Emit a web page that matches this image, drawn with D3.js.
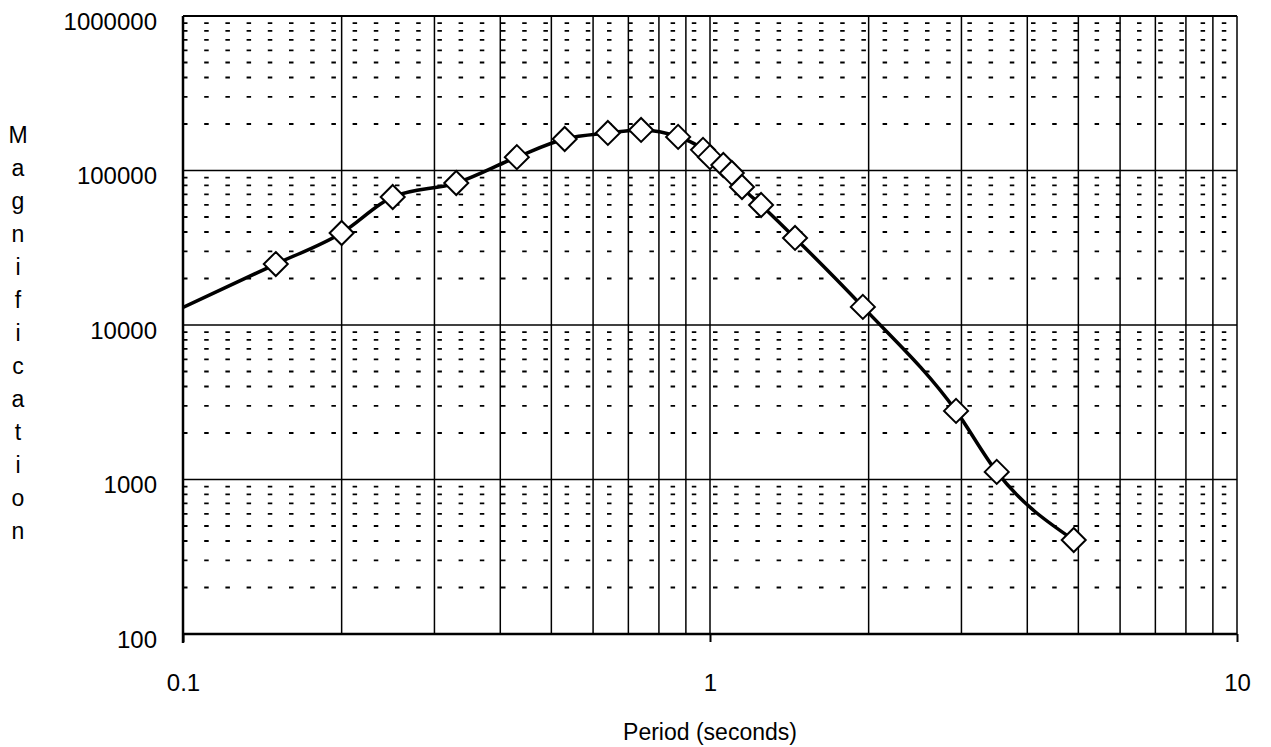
<!DOCTYPE html>
<html>
<head>
<meta charset="utf-8">
<script src="https://cdn.jsdelivr.net/npm/d3@7"></script>
<style>
body { margin: 0; background: #fff; }
svg { display: block; font-family: "Liberation Sans", Arial, sans-serif; }
</style>
</head>
<body>
<svg id="chart"></svg>
<script>
// values
const periods = [0.1, 0.15, 0.2, 0.25, 0.33, 0.43, 0.53, 0.64, 0.74, 0.87, 0.97, 1.0, 1.06, 1.1, 1.15, 1.25, 1.45, 1.95, 2.93, 3.5, 4.9];
const magnification = [13000, 24800, 39400, 67400, 83000, 122000, 160000, 175000, 183000, 165000, 136000, 122000, 108600, 96400, 78200, 59800, 36600, 13100, 2780, 1120, 406];
const xTicks = [0.1, 1, 10];
const yTicks = [100, 1000, 10000, 100000, 1000000];
const xLabel = "Period (seconds)";
const yLabel = "Magnification";

function draw(){
	var width = 1271;
	var height = 747;
	var pLeft = 183, pRight = 1237, pTop = 16, pBottom = 634;

	var svg = d3.select("#chart").attr("width", width).attr("height", height);

	var x = d3.scaleLog().domain([0.1, 10]).range([pLeft, pRight]);
	var y = d3.scaleLog().domain([100, 1000000]).range([pBottom, pTop]);

	// minor values per decade
	var xMinor = [];
	[0.1, 1].forEach(function(d){
		for(var k=2; k<10; k++) xMinor.push(d*k);
	});
	var yMinor = [];
	[100, 1000, 10000, 100000].forEach(function(d){
		for(var k=2; k<10; k++) yMinor.push(d*k);
	});

	// dashed minor horizontal grid
	svg.append("g").selectAll("line").data(yMinor)
		.enter().append("line")
		.attr("x1", pLeft).attr("x2", pRight)
		.attr("y1", d => y(d)).attr("y2", d => y(d))
		.style("stroke", "black")
		.style("stroke-width", 1.8)
		.style("stroke-dasharray", "4.5,16.7");

	// solid major horizontal grid
	svg.append("g").selectAll("line").data(yTicks.slice(1))
		.enter().append("line")
		.attr("x1", pLeft).attr("x2", pRight)
		.attr("y1", d => y(d)).attr("y2", d => y(d))
		.style("stroke", "black")
		.style("stroke-width", 1.6);

	// vertical grid, all solid
	svg.append("g").selectAll("line").data(xMinor.concat([1]))
		.enter().append("line")
		.attr("x1", d => x(d)).attr("x2", d => x(d))
		.attr("y1", pTop).attr("y2", pBottom)
		.style("stroke", "black")
		.style("stroke-width", 1.5);

	// frame
	svg.append("line").attr("x1", pRight).attr("x2", pRight).attr("y1", pTop).attr("y2", pBottom)
		.style("stroke", "black").style("stroke-width", 1.5);
	svg.append("line").attr("x1", pLeft).attr("x2", pRight).attr("y1", pTop).attr("y2", pTop)
		.style("stroke", "black").style("stroke-width", 2);

	// axes
	var yAxis = svg.append("g")
		.attr("transform", "translate(" + pLeft + ",0)")
		.call(d3.axisLeft(y).tickValues(yTicks).tickSize(0).tickPadding(26).tickFormat(d3.format("d")));
	yAxis.select(".domain").attr("d", "M0," + pTop + "V" + (pBottom + 9)).style("stroke-width", 2.5);
	yAxis.selectAll("text").attr("dy", "0.55em").style("font-size", "24px").style("fill", "black");

	var xAxis = svg.append("g")
		.attr("transform", "translate(0," + pBottom + ")")
		.call(d3.axisBottom(x).tickValues(xTicks).tickSize(8).tickFormat(d => String(d)));
	xAxis.select(".domain").attr("d", "M" + pLeft + ",0H" + pRight).style("stroke-width", 2.5);
	xAxis.selectAll("line").style("stroke-width", 2);
	xAxis.selectAll("text").attr("y", 49).attr("dy", "0.35em").style("font-size", "24px").style("fill", "black");

	// axis titles
	svg.append("text")
		.attr("x", (pLeft + pRight) / 2).attr("y", 740)
		.attr("text-anchor", "middle")
		.style("font-size", "23px")
		.text(xLabel);

	svg.append("g").selectAll("text").data(yLabel.split(""))
		.enter().append("text")
		.attr("x", 18)
		.attr("y", (d, i) => 135 + i * 33)
		.attr("dy", "0.35em")
		.attr("text-anchor", "middle")
		.style("font-size", "23px")
		.text(d => d);

	// curve
	var data = periods.map((p, i) => ({p: p, m: magnification[i]}));

	svg.append("clipPath").attr("id", "plot")
		.append("rect").attr("x", pLeft).attr("y", pTop).attr("width", pRight - pLeft).attr("height", pBottom - pTop);

	var line = d3.line()
		.x(d => x(d.p))
		.y(d => y(d.m))
		.curve(d3.curveMonotoneX);

	svg.append("path")
		.datum(data)
		.attr("clip-path", "url(#plot)")
		.attr("d", line)
		.style("fill", "none")
		.style("stroke", "black")
		.style("stroke-width", 3.5);

	var r = 12;
	svg.append("g").selectAll("path").data(data.filter(d => d.p > 0.1))
		.enter().append("path")
		.attr("transform", d => "translate(" + x(d.p) + "," + y(d.m) + ")")
		.attr("d", "M0," + (-r) + "L" + r + ",0L0," + r + "L" + (-r) + ",0Z")
		.style("fill", "white")
		.style("stroke", "black")
		.style("stroke-width", 2);
}

draw();
</script>
</body>
</html>
